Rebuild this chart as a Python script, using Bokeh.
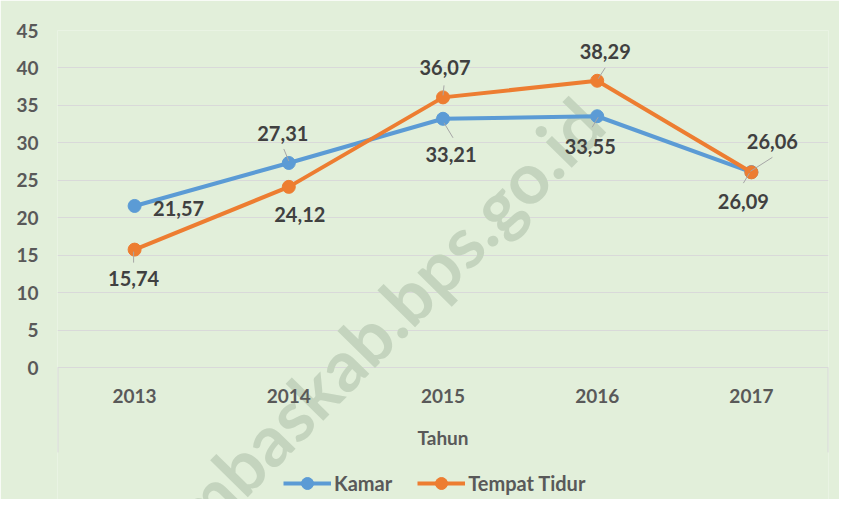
from bokeh.plotting import figure
from bokeh.models import FixedTicker, Legend, LegendItem, Label, ColumnDataSource
from bokeh.embed import file_html
from bokeh.resources import INLINE

# ---- data ----
years = ["2013", "2014", "2015", "2016", "2017"]
kamar = [21.57, 27.31, 33.21, 33.55, 26.09]
tempat_tidur = [15.74, 24.12, 36.07, 38.29, 26.06]
kamar_labels = ["21,57", "27,31", "33,21", "33,55", "26,09"]
tempat_labels = ["15,74", "24,12", "36,07", "38,29", "26,06"]
y_ticks = [0, 5, 10, 15, 20, 25, 30, 35, 40, 45]
x_title = "Tahun"
watermark = "mbaskab.bps.go.id"

# ---- style ----
BG = "#E2EFDA"
BLUE = "#5B9BD5"
ORANGE = "#ED7D31"
GRID = "#D9D9D9"
TICK_TXT = "#595959"
LBL_TXT = "#404040"
FONT = "Lato"
FS = "19px"
LFS = "20px"

PLOT_W, PLOT_H = 771, 337          # value area (0..45) in px
BELOW_H = 132                      # category labels + title + legend area in px
X0, X1 = -0.5, len(years) - 0.5
Y0, Y1 = 0, 45
PX_X = PLOT_W / (X1 - X0)
PX_Y = PLOT_H / (Y1 - Y0)
Y_BOTTOM = -BELOW_H / PX_Y

# label offsets (px right, px down) from each point
kamar_off = [(44, 3), (-6, -29), (8, 36), (-7, 30), (-8, 29)]
tempat_off = [(-1, 29), (11, 28), (2, -30), (8, -29), (21, -31)]
# leader lines (px offsets from point: x0, y0, x1, y1)
kamar_lead = [None, (-5, -14, 0, -2), (1, 4, 10, 19), (1, 1, -5, 11), (-2, 1, -8, 11)]
tempat_lead = [(-1, 2, -1, 13), None, (1, -12, 0, -2), (8, -13, 1, -2), (21, -15, -1, -1)]

xs = list(range(len(years)))

p = figure(frame_width=PLOT_W, frame_height=PLOT_H + BELOW_H,
           x_range=(X0, X1), y_range=(Y_BOTTOM, Y1),
           output_backend="svg", toolbar_location=None,
           min_border_left=57, min_border_right=11,
           min_border_top=30, min_border_bottom=0)
p.background_fill_color = BG
p.border_fill_color = BG
p.outline_line_color = None

# watermark (screen units relative to the frame's bottom-left)
wm = Label(x=126, y=-24, x_units="screen", y_units="screen",
           text=watermark, angle=45.5, angle_units="deg",
           text_font=FONT, text_font_style="bold", text_font_size="71px",
           text_baseline="alphabetic", text_align="left",
           text_color="#C4D4BE", level="guide")
p.add_layout(wm)

# value axis
ya = p.yaxis[0]
ya.ticker = FixedTicker(ticks=y_ticks)
p.ygrid.ticker = FixedTicker(ticks=y_ticks)
p.ygrid.grid_line_color = GRID
p.xgrid.grid_line_color = None
ya.axis_line_color = None
ya.major_tick_line_color = None
ya.minor_tick_line_color = None
ya.major_tick_out = 0
ya.major_tick_in = 0
ya.major_label_standoff = 19
ya.major_label_text_font = FONT
ya.major_label_text_font_style = "bold"
ya.major_label_text_font_size = FS
ya.major_label_text_color = TICK_TXT
p.xaxis.visible = False

renderers = []

# category labels, axis title and the category-area edge lines
cat_src = ColumnDataSource(dict(x=xs, y=[-28 / PX_Y] * len(xs), t=years))
renderers.append(p.text("x", "y", text="t", source=cat_src, text_align="center",
                        text_baseline="middle", text_font={"value": FONT},
                        text_font_style="bold", text_font_size={"value": FS},
                        text_color=TICK_TXT))
renderers.append(p.text(x=[(X0 + X1) / 2], y=[-70 / PX_Y], text=[x_title],
                        text_align="center", text_baseline="middle",
                        text_font={"value": FONT}, text_font_style="bold",
                        text_font_size={"value": FS}, text_color=TICK_TXT))
renderers.append(p.segment(x0=[X0 + 0.5 / PX_X, X1 - 0.5 / PX_X], y0=[0, 0],
                           x1=[X0 + 0.5 / PX_X, X1 - 0.5 / PX_X], y1=[-85 / PX_Y] * 2,
                           line_color=GRID, line_width=1))

# series
lk = p.line(xs, kamar, line_width=4, color=BLUE)
sk = p.scatter(xs, kamar, size=13, color=BLUE)
lt = p.line(xs, tempat_tidur, line_width=4, color=ORANGE)
st = p.scatter(xs, tempat_tidur, size=13, color=ORANGE)
renderers += [lk, sk, lt, st]

# data labels + leader lines
def add_labels(vals, labels, offs, leads):
    tx = [i + o[0] / PX_X for i, o in zip(xs, offs)]
    ty = [v - o[1] / PX_Y for v, o in zip(vals, offs)]
    src = ColumnDataSource(dict(x=tx, y=ty, t=labels))
    r = p.text("x", "y", text="t", source=src, text_align="center",
               text_baseline="middle", text_font={"value": FONT},
               text_font_style="bold", text_font_size={"value": LFS},
               text_color=LBL_TXT)
    x0s, y0s, x1s, y1s = [], [], [], []
    for i, v, l in zip(xs, vals, leads):
        if l is None:
            continue
        x0s.append(i + l[0] / PX_X)
        y0s.append(v - l[1] / PX_Y)
        x1s.append(i + l[2] / PX_X)
        y1s.append(v - l[3] / PX_Y)
    s = p.segment(x0s, y0s, x1s, y1s, line_color="#A6A6A6", line_width=1)
    return [s, r]

renderers += add_labels(kamar, kamar_labels, kamar_off, kamar_lead)
renderers += add_labels(tempat_tidur, tempat_labels, tempat_off, tempat_lead)
for r in renderers:
    r.level = "annotation"

legend = Legend(items=[LegendItem(label="Kamar", renderers=[lk, sk]),
                       LegendItem(label="Tempat Tidur", renderers=[lt, st])],
                orientation="horizontal", location=(226, 1),
                glyph_width=48, glyph_height=30, label_standoff=3, spacing=25,
                label_text_font=FONT, label_text_font_style="bold",
                label_text_font_size="20px", label_text_color=TICK_TXT,
                background_fill_alpha=0, border_line_color=None,
                margin=0, padding=0)
p.add_layout(legend)

open("out.html", "w").write(file_html(p, INLINE))
